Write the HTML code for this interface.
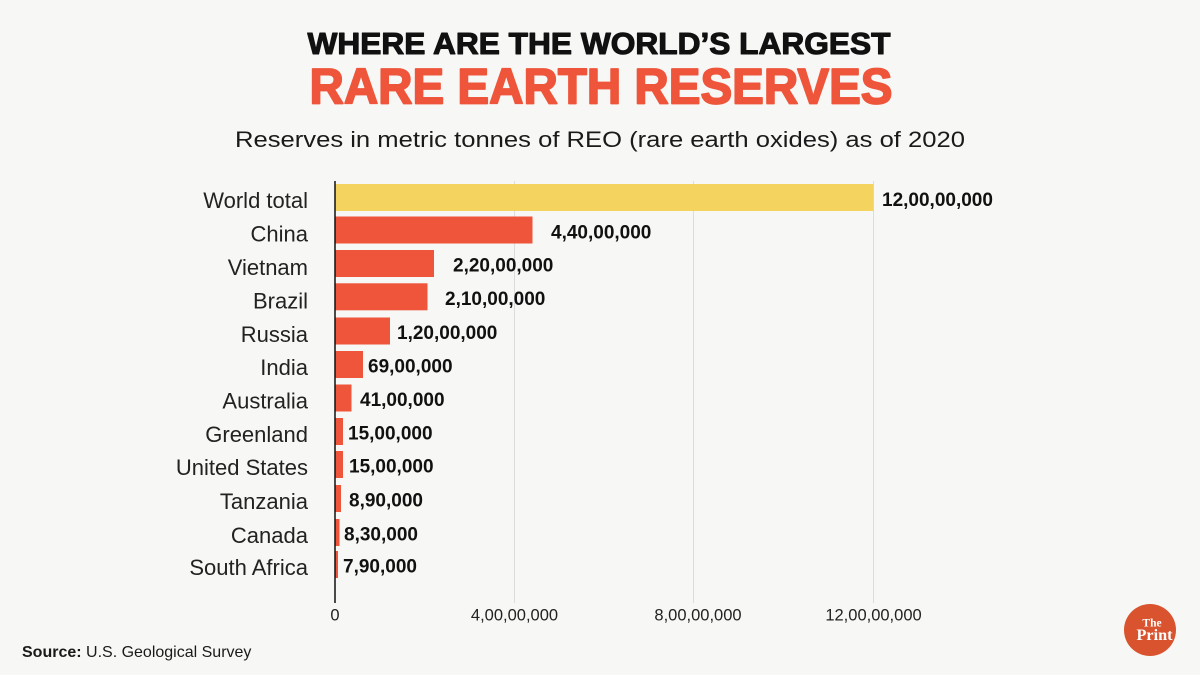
<!DOCTYPE html>
<html>
<head>
<meta charset="utf-8">
<style>
html,body{margin:0;padding:0;background:#f7f7f5;}
svg{display:block;}
</style>
</head>
<body>
<svg width="1200" height="675" viewBox="0 0 1200 675" xmlns="http://www.w3.org/2000/svg">
<rect x="0" y="0" width="1200" height="675" fill="#f7f7f5"/>

<!-- Titles -->
<text x="307.5" y="54" font-family="Liberation Sans, sans-serif" font-weight="bold" font-size="31" fill="#111" stroke="#111" stroke-width="1.1" stroke-linejoin="round" textLength="583" lengthAdjust="spacingAndGlyphs">WHERE ARE THE WORLD’S LARGEST</text>
<text x="309.5" y="103.5" font-family="Liberation Sans, sans-serif" font-weight="bold" font-size="50" fill="#EE553A" stroke="#EE553A" stroke-width="1.8" stroke-linejoin="round" textLength="583" lengthAdjust="spacingAndGlyphs">RARE EARTH RESERVES</text>
<text x="235" y="147" font-family="Liberation Sans, sans-serif" font-size="22.5" fill="#1a1a1a" textLength="730" lengthAdjust="spacingAndGlyphs">Reserves in metric tonnes of REO (rare earth oxides) as of 2020</text>

<!-- Gridlines -->
<g stroke="#dcdcdc" stroke-width="1">
<line x1="514.5" y1="181" x2="514.5" y2="603"/>
<line x1="693.5" y1="181" x2="693.5" y2="603"/>
<line x1="873.5" y1="181" x2="873.5" y2="603"/>
</g>

<!-- Bars -->
<g>
<rect x="335" y="184" width="538.5" height="27" fill="#F5D35F"/>
<rect x="335" y="216.5" width="197.5" height="27" fill="#EE553A"/>
<rect x="335" y="250" width="99" height="27" fill="#EE553A"/>
<rect x="335" y="283.3" width="92.5" height="27" fill="#EE553A"/>
<rect x="335" y="317.5" width="55" height="27" fill="#EE553A"/>
<rect x="335" y="351" width="28" height="27" fill="#EE553A"/>
<rect x="335" y="384.5" width="16.5" height="27" fill="#EE553A"/>
<rect x="335" y="418" width="8" height="27" fill="#EE553A"/>
<rect x="335" y="451" width="8" height="27" fill="#EE553A"/>
<rect x="335" y="485" width="6" height="27" fill="#EE553A"/>
<rect x="335" y="519" width="4.5" height="27" fill="#EE553A"/>
<rect x="335" y="551" width="3" height="27" fill="#EE553A"/>
</g>

<!-- Axis line -->
<line x1="335" y1="181" x2="335" y2="603" stroke="#111" stroke-width="1.5"/>

<!-- Category labels -->
<g font-family="Liberation Sans, sans-serif" font-size="22" fill="#222" text-anchor="end">
<text x="308" y="208">World total</text>
<text x="308" y="241.5">China</text>
<text x="308" y="275">Vietnam</text>
<text x="308" y="308.3">Brazil</text>
<text x="308" y="342">Russia</text>
<text x="308" y="375">India</text>
<text x="308" y="408.5">Australia</text>
<text x="308" y="442">Greenland</text>
<text x="308" y="475">United States</text>
<text x="308" y="509">Tanzania</text>
<text x="308" y="543">Canada</text>
<text x="308" y="575">South Africa</text>
</g>

<!-- Value labels -->
<g font-family="Liberation Sans, sans-serif" font-weight="bold" font-size="19" fill="#111">
<text x="882" y="206">12,00,00,000</text>
<text x="551" y="238.5">4,40,00,000</text>
<text x="453" y="271.5">2,20,00,000</text>
<text x="445" y="305">2,10,00,000</text>
<text x="397" y="339">1,20,00,000</text>
<text x="368" y="372.5">69,00,000</text>
<text x="360" y="406">41,00,000</text>
<text x="348" y="439.5">15,00,000</text>
<text x="349" y="472.5">15,00,000</text>
<text x="349" y="506.5">8,90,000</text>
<text x="344" y="540.5">8,30,000</text>
<text x="343" y="572.5">7,90,000</text>
</g>

<!-- Tick labels -->
<g font-family="Liberation Sans, sans-serif" font-size="16.5" fill="#222" text-anchor="middle">
<text x="335" y="620.5">0</text>
<text x="514.5" y="620.5">4,00,00,000</text>
<text x="698" y="620.5">8,00,00,000</text>
<text x="873.5" y="620.5">12,00,00,000</text>
</g>

<!-- Source -->
<text x="22" y="657" font-family="Liberation Sans, sans-serif" font-size="16" fill="#1a1a1a"><tspan font-weight="bold">Source:</tspan> U.S. Geological Survey</text>

<!-- Logo -->
<circle cx="1150" cy="630" r="26" fill="#D9532E"/>
<text x="1152" y="626.5" font-family="Liberation Serif, serif" font-weight="bold" font-size="11.5" fill="#fff" text-anchor="middle">The</text>
<text x="1154.5" y="640" font-family="Liberation Serif, serif" font-weight="bold" font-size="16" fill="#fff" text-anchor="middle" textLength="36" lengthAdjust="spacingAndGlyphs">Print</text>
</svg>
</body>
</html>
